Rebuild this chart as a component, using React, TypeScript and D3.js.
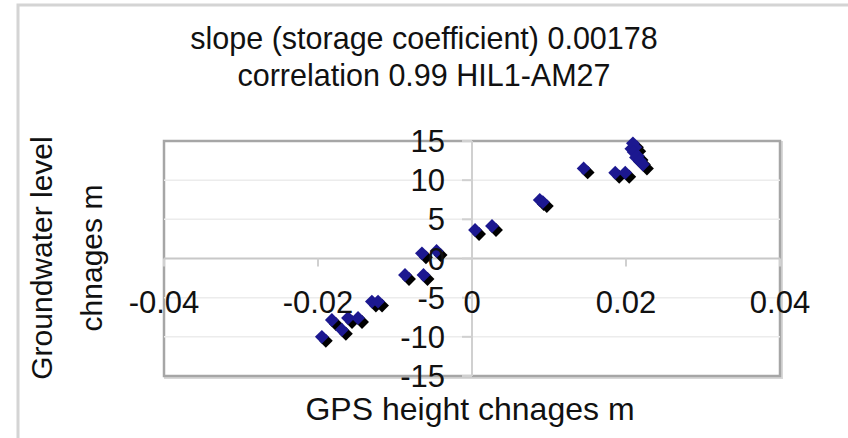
import React from "react";
import * as d3 from "d3";

const gpsChange = [
  -0.0195, -0.0169, -0.0182, -0.0161, -0.0148, -0.0130, -0.0122,
  -0.0087, -0.0063, -0.0065, -0.0046,
  0.0004, 0.0026, 0.0088, 0.0092, 0.0145, 0.0186, 0.0199,
  0.0207, 0.0209, 0.0212, 0.0210, 0.0215, 0.0213, 0.0218, 0.0222,
];
const gwChange = [
  -10.0, -9.1, -7.85, -7.6, -7.6, -5.5, -5.5,
  -2.1, -2.1, 0.66, 0.96,
  3.64, 4.15, 7.47, 7.2, 11.5, 10.95, 10.95,
  14.0, 14.7, 14.2, 13.6, 13.1, 12.9, 12.5, 12.0,
];
const xTicks = [-0.04, -0.02, 0, 0.02, 0.04];
const xTickLabels = ["-0.04", "-0.02", "0", "0.02", "0.04"];
const yTicks = [15, 10, 5, 0, -5, -10, -15];
const yTickLabels = ["15", "10", "5", "0", "-5", "-10", "-15"];
const titleLines = ["slope (storage coefficient) 0.00178", "correlation 0.99 HIL1-AM27"];
const xTitle = "GPS height chnages m";
const yTitleLines = ["Groundwater level", "chnages m"];

const W = 848;
const H = 438;
const FONT = "'Liberation Sans', Arial, sans-serif";

export default function App() {
  const x = d3.scaleLinear().domain([-0.04, 0.04]).range([164, 780]);
  const y = d3.scaleLinear().domain([-15, 15]).range([376, 141]);
  const marker = d3.symbol(d3.symbolSquare, 96)() as string;
  const pts = gpsChange.map((g, i) => ({ g, w: gwChange[i] }));

  return (
    <svg width={W} height={H} style={{ position: "absolute", left: 0, top: 0, background: "#fff" }}>
      {/* outer chart frame */}
      <rect x={18} y={5} width={840} height={460} fill="#fff" stroke="#d4d4d4" strokeWidth={3} />
      {/* titles */}
      {titleLines.map((t, i) => (
        <text key={t} x={424} y={49 + i * 37} textAnchor="middle" fontFamily={FONT} fontSize={30.5} fill="#111">
          {t}
        </text>
      ))}
      {/* plot border shadow + border */}
      <rect x={165.5} y={142.5} width={616} height={235} fill="none" stroke="#d8d8d8" strokeWidth={3} />
      <rect x={164} y={141} width={616} height={235} fill="#fff" stroke="#a6a6a6" strokeWidth={2.5} />
      {/* gridlines */}
      {yTicks.filter((v) => v !== 0 && Math.abs(v) !== 15).map((v) => (
        <line key={"g" + v} x1={164} x2={780} y1={y(v)} y2={y(v)} stroke="#ececec" strokeWidth={1.5} />
      ))}
      {/* axes */}
      <line x1={164} x2={780} y1={y(0)} y2={y(0)} stroke="#c8c8c8" strokeWidth={2} />
      <line x1={x(0)} x2={x(0)} y1={141} y2={376} stroke="#d0d0d0" strokeWidth={2} />
      {xTicks.map((v) => (
        <line key={"xt" + v} x1={x(v)} x2={x(v)} y1={y(0)} y2={y(0) + 8} stroke="#d0d0d0" strokeWidth={2} />
      ))}
      {yTicks.map((v) => (
        <line key={"yt" + v} x1={x(0) - 10} x2={x(0)} y1={y(v)} y2={y(v)} stroke="#d0d0d0" strokeWidth={2} />
      ))}
      {/* markers */}
      {pts.map((p, i) => (
        <path key={"s" + i} d={marker} transform={`translate(${x(p.g) + 4},${y(p.w) + 4}) rotate(45)`} fill="#000" />
      ))}
      {pts.map((p, i) => (
        <path key={"m" + i} d={marker} transform={`translate(${x(p.g)},${y(p.w)}) rotate(45)`} fill="#1c1890" />
      ))}
      {/* tick labels */}
      {xTicks.map((v, i) => (
        <text key={"xl" + v} x={x(v)} y={313} textAnchor="middle" fontFamily={FONT} fontSize={31} fill="#111">
          {xTickLabels[i]}
        </text>
      ))}
      {yTicks.map((v, i) => (
        <text key={"yl" + v} x={445} y={y(v)} dy="0.36em" textAnchor="end" fontFamily={FONT} fontSize={31} fill="#111">
          {yTickLabels[i]}
        </text>
      ))}
      {/* axis titles */}
      <text x={470} y={420} textAnchor="middle" fontFamily={FONT} fontSize={32} fill="#111">
        {xTitle}
      </text>
      {yTitleLines.map((t, i) => (
        <text
          key={t}
          transform={`translate(${52 + i * 50},258) rotate(-90)`}
          textAnchor="middle"
          fontFamily={FONT}
          fontSize={30}
          fill="#111"
        >
          {t}
        </text>
      ))}
    </svg>
  );
}
